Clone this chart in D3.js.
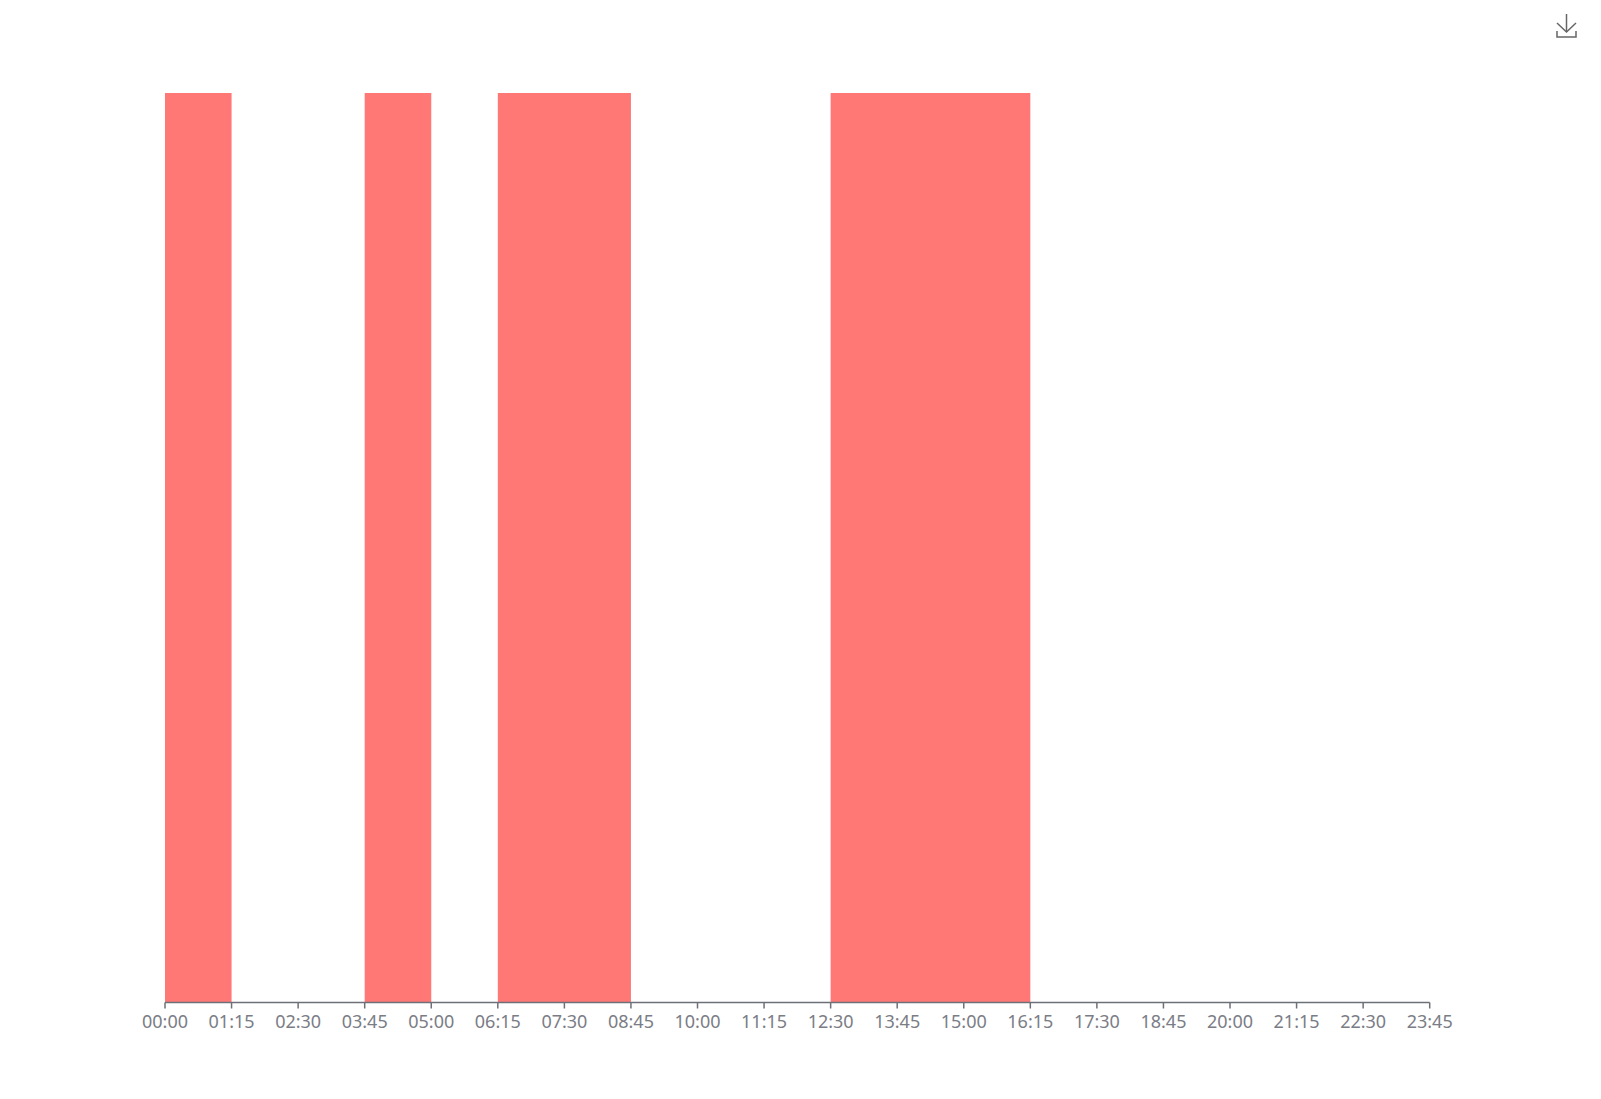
<!DOCTYPE html>
<html><head><meta charset="utf-8">
<script src="https://cdn.jsdelivr.net/npm/d3@7/dist/d3.min.js"></script>
<style>html,body{margin:0;padding:0;background:#fff}svg{display:block}</style>
</head><body><svg id="c" width="1601" height="1099"></svg>
<script>
const tickLabels = ["00:00","01:15","02:30","03:45","05:00","06:15","07:30","08:45","10:00","11:15","12:30","13:45","15:00","16:15","17:30","18:45","20:00","21:15","22:30","23:45"];
const intervalStarts = ["00:00","03:45","06:15","12:30"];
const intervalEnds = ["01:15","05:00","08:45","16:15"];
const intervalValues = [1,1,1,1];

const svg = d3.select("#c");
const x = d3.scalePoint().domain(tickLabels).range([165,1429.7]);
const y = d3.scaleLinear().domain([0,1]).range([1002.5,93]);

svg.selectAll("rect.bar").data(intervalStarts).join("rect").attr("class","bar")
  .attr("x",d=>x(d))
  .attr("width",(d,i)=>x(intervalEnds[i])-x(d))
  .attr("y",(d,i)=>y(intervalValues[i]))
  .attr("height",(d,i)=>y(0)-y(intervalValues[i]))
  .attr("fill","#ff7875");

const axis = svg.append("g").attr("transform","translate(0,1002.5)")
  .call(d3.axisBottom(x).tickSize(6).tickPadding(7).offset(0));
axis.selectAll("path,line").attr("stroke","#6e7079").attr("stroke-width",1.5);
axis.select("path.domain").attr("d","M165,0H1429.7");
axis.selectAll("text").attr("fill","#7b7d86").attr("font-family","'Noto Sans',sans-serif").attr("font-size",18).attr("dy","0.71em");

const iconLine = d3.line();
const icon = [
  [[1566.5,14],[1566.5,32]],
  [[1557,23],[1566.5,32],[1576,23]],
  [[1557,31],[1557,37],[1576,37],[1576,31]]
];
svg.append("g").selectAll("path").data(icon).join("path")
  .attr("d",iconLine).attr("fill","none").attr("stroke","#666").attr("stroke-width",1.5);
</script></body></html>
